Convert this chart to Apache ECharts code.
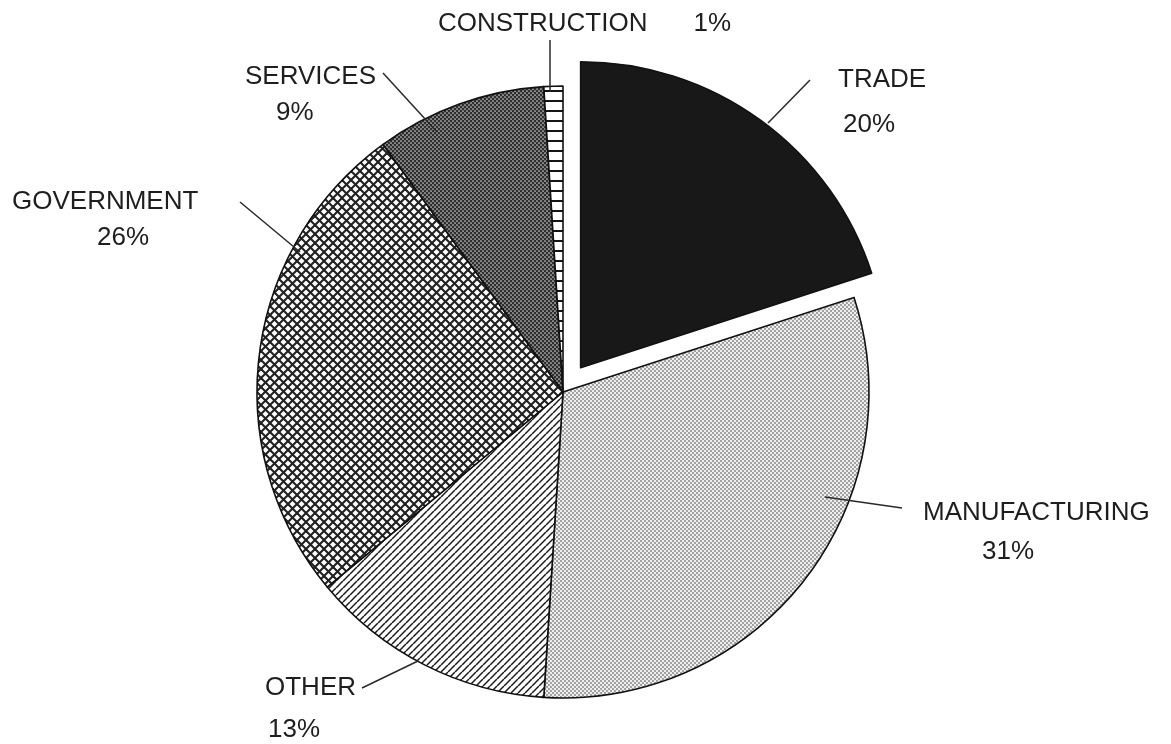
<!DOCTYPE html>
<html>
<head>
<meta charset="utf-8">
<script src="https://cdn.jsdelivr.net/npm/echarts@6/dist/echarts.min.js"></script>
<style>html,body{margin:0;padding:0;background:#fff}#c{width:1171px;height:744px}</style>
</head>
<body>
<div id="c"></div>
<script>
// ---- data ----
const categories = ['TRADE', 'MANUFACTURING', 'OTHER', 'GOVERNMENT', 'SERVICES', 'CONSTRUCTION'];
const shares = [20, 31, 13, 26, 9, 1];
const explodedIndex = 0; // TRADE is pulled out of the pie

// ---- label layout (positions only) ----
// [left x, top y, line gap, percent indent, single line?]
const labelBoxes = [
  [838, 57, 45, 5, false],
  [923, 493, 39, 59, false],
  [265, 667, 42, 3, false],
  [12, 184, 36, 85, false],
  [245, 59, 36, 31, false],
  [438, 8, 32, 46, true]
];
const leaderLines = [
  [[768, 123], [810, 80]],
  [[825, 497], [902, 508]],
  [[418, 661], [362, 688]],
  [[300, 252], [240, 202]],
  [[437, 132], [383, 73]],
  [[550, 92], [550, 40]]
];

const CENTER = [563, 392];
const RADIUS = 306;
const EXPLODE = 30;

function tile(size, draw) {
  const c = document.createElement('canvas');
  c.width = size; c.height = size;
  const ctx = c.getContext('2d');
  draw(ctx, size);
  return c;
}
const patTrade = '#181818';
const patManu = tile(4, (ctx, s) => {
  ctx.fillStyle = '#eeeeee'; ctx.fillRect(0, 0, s, s);
  ctx.fillStyle = '#7e7e7e';
  ctx.beginPath(); ctx.arc(1, 1, 0.9, 0, Math.PI * 2); ctx.fill();
  ctx.beginPath(); ctx.arc(3, 3, 0.9, 0, Math.PI * 2); ctx.fill();
});
const patOther = tile(7, (ctx, s) => {
  ctx.fillStyle = '#ffffff'; ctx.fillRect(0, 0, s, s);
  ctx.strokeStyle = '#1a1a1a'; ctx.lineWidth = 1.5;
  for (const k of [-s, 0, s]) {
    ctx.beginPath(); ctx.moveTo(k, s); ctx.lineTo(k + s, 0); ctx.stroke();
  }
});
const patGov = tile(9, (ctx, s) => {
  ctx.fillStyle = '#ffffff'; ctx.fillRect(0, 0, s, s);
  ctx.strokeStyle = '#222222'; ctx.lineWidth = 2.1;
  for (const k of [-s, 0, s]) {
    ctx.beginPath(); ctx.moveTo(k, 0); ctx.lineTo(k + s, s); ctx.stroke();
    ctx.beginPath(); ctx.moveTo(k + s, 0); ctx.lineTo(k, s); ctx.stroke();
  }
});
const patServ = tile(4, (ctx, s) => {
  ctx.fillStyle = '#2e2e2e'; ctx.fillRect(0, 0, s, s);
  ctx.fillStyle = '#d0d0d0';
  ctx.beginPath(); ctx.arc(1, 1, 0.85, 0, Math.PI * 2); ctx.fill();
  ctx.beginPath(); ctx.arc(3, 3, 0.85, 0, Math.PI * 2); ctx.fill();
});
const patCons = tile(10, (ctx, s) => {
  ctx.fillStyle = '#ffffff'; ctx.fillRect(0, 0, s, s);
  ctx.fillStyle = '#151515'; ctx.fillRect(0, 0, s, 2);
});
const fills = [patTrade, patManu, patOther, patGov, patServ, patCons];
const toColor = f => (typeof f === 'string' ? f : { image: f, repeat: 'repeat' });

const fontFamily = '"Liberation Sans", Arial, Helvetica, sans-serif';
const clear = 'rgba(0,0,0,0)';

// main pie (exploded slice left empty here; drawn by the second series)
const data = categories.map((name, i) => {
  const b = labelBoxes[i];
  const exploded = i === explodedIndex;
  return {
    name: name,
    value: shares[i],
    itemStyle: exploded ? { color: clear, borderWidth: 0 } : { color: toColor(fills[i]) },
    label: {
      formatter: b[4] ? '{n|{b}}{p|{c}%}' : '{n|{b}}\n{p|{c}%}',
      rich: {
        n: { fontSize: 26, lineHeight: b[2], color: '#1e1e1e', fontFamily: fontFamily },
        p: { fontSize: 26, lineHeight: b[2], color: '#1e1e1e', fontFamily: fontFamily, padding: [0, 0, 0, b[3]] }
      }
    }
  };
});

// exploded slice: same start angle, centre pushed out along its mid-angle
const total = shares.reduce((a, v) => a + v, 0);
const before = shares.slice(0, explodedIndex).reduce((a, v) => a + v, 0);
const midFrac = (before + shares[explodedIndex] / 2) / total;
const midRad = midFrac * 2 * Math.PI;
const explodedCenter = [CENTER[0] + EXPLODE * Math.sin(midRad), CENTER[1] - EXPLODE * Math.cos(midRad)];
const explodedData = [
  { name: 'rest-before', value: before, itemStyle: { color: clear, borderWidth: 0 } },
  { name: categories[explodedIndex], value: shares[explodedIndex], itemStyle: { color: toColor(fills[explodedIndex]) } },
  { name: 'rest-after', value: total - before - shares[explodedIndex], itemStyle: { color: clear, borderWidth: 0 } }
];

const chart = echarts.init(document.getElementById('c'), null, { renderer: 'canvas' });
chart.setOption({
  backgroundColor: '#ffffff',
  animation: false,
  graphic: leaderLines.map(pts => ({
    type: 'polyline',
    z: 100,
    silent: true,
    shape: { points: pts },
    style: { stroke: '#2a2a2a', lineWidth: 1.5, fill: null }
  })),
  series: [{
    type: 'pie',
    center: explodedCenter,
    radius: [0, RADIUS],
    startAngle: 90,
    clockwise: true,
    minAngle: 0,
    silent: true,
    z: 1,
    itemStyle: { borderColor: '#111', borderWidth: 1.6 },
    emphasis: { disabled: true },
    label: { show: false },
    labelLine: { show: false },
    data: explodedData
  }, {
    type: 'pie',
    center: CENTER,
    radius: [0, RADIUS],
    startAngle: 90,
    clockwise: true,
    avoidLabelOverlap: false,
    silent: true,
    z: 2,
    itemStyle: { borderColor: '#111', borderWidth: 1.6 },
    emphasis: { disabled: true },
    label: { show: true, position: 'outside', fontSize: 26, color: '#1e1e1e', fontFamily: fontFamily },
    labelLine: { show: false },
    labelLayout: function (params) {
      const b = labelBoxes[params.dataIndex];
      return { x: b[0], y: b[1], align: 'left', verticalAlign: 'top' };
    },
    data: data
  }]
});
</script>
</body>
</html>
